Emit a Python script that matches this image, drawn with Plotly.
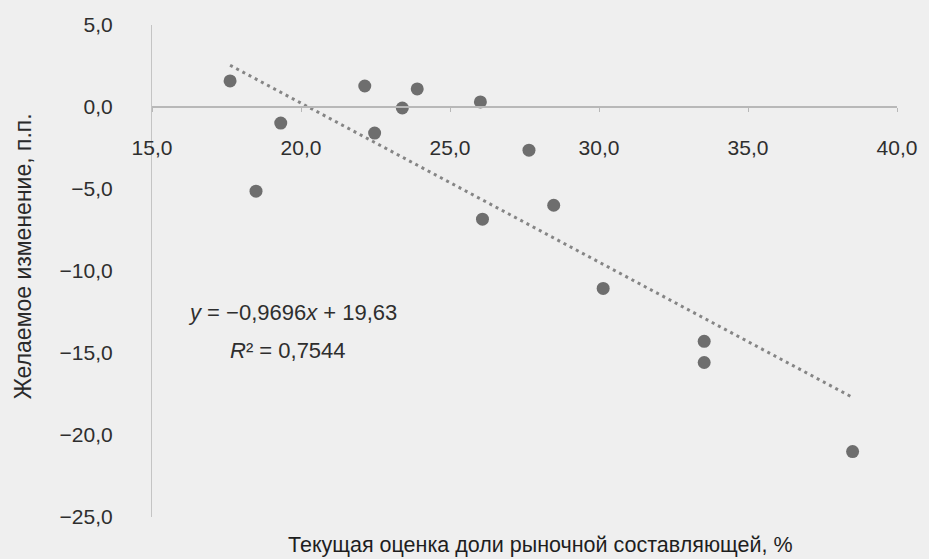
import plotly.graph_objects as go

# Data
share_x = [17.62, 18.49, 19.32, 22.14, 22.47, 23.40, 23.90, 26.02, 26.09,
           27.65, 28.48, 30.14, 33.53, 33.53, 38.51]
change_y = [1.59, -5.13, -0.98, 1.28, -1.59, -0.06, 1.10, 0.31, -6.84,
            -2.63, -5.99, -11.06, -14.29, -15.58, -21.01]

# Trend line coefficients as printed on the chart
slope = -0.9696
intercept = 19.63
r2_text = "0,7544"

x_ticks = [15, 20, 25, 30, 35, 40]
y_ticks = [5, 0, -5, -10, -15, -20, -25]
x_range = [15, 40]
y_range = [-25, 5]

x_title = "Текущая оценка доли рыночной составляющей, %"
y_title = "Желаемое изменение, п.п."

font_family = "Liberation Sans, Arial, sans-serif"
txt_color = "#2e2e2e"

trend_x = [min(share_x), max(share_x)]
trend_y = [slope * v + intercept for v in trend_x]

fig = go.Figure()
fig.add_trace(go.Scatter(
    x=trend_x, y=trend_y, mode="lines",
    line=dict(color="#858585", width=3, dash="3px,4px"),
    hoverinfo="skip", showlegend=False))
fig.add_trace(go.Scatter(
    x=share_x, y=change_y, mode="markers",
    marker=dict(color="#6e6e6e", size=13, line=dict(width=0)),
    showlegend=False))

fig.add_annotation(
    x=19.71, y=-12.56, xref="x", yref="y", showarrow=False,
    text="<i>y</i> = −0,9696<i>x</i> + 19,63",
    font=dict(family=font_family, size=22, color=txt_color))
fig.add_annotation(
    x=19.58, y=-14.82, xref="x", yref="y", showarrow=False,
    text="<i>R</i>² = " + r2_text,
    font=dict(family=font_family, size=22, color=txt_color))

fig.add_annotation(
    x=0.522, y=0, xref="paper", yref="paper", yshift=-28,
    yanchor="middle", showarrow=False, text=x_title,
    font=dict(family=font_family, size=21.5, color="#1e1e1e"))
fig.add_annotation(
    x=-0.173, y=0.53, xref="paper", yref="paper", textangle=-90,
    xanchor="center", yanchor="middle", showarrow=False, text=y_title,
    font=dict(family=font_family, size=23, color="#2a2a2a"))

fig.update_layout(
    width=929, height=559,
    margin=dict(l=152, r=24, t=25, b=42),
    paper_bgcolor="#efefef", plot_bgcolor="#efefef",
    separators=", ",
    font=dict(family=font_family, size=21, color=txt_color),
    xaxis=dict(
        range=x_range, tickvals=x_ticks, tickformat=".1f",
        anchor="free",
        position=(0 - y_range[0]) / (y_range[1] - y_range[0]),
        showline=True, linecolor="#b8b8b8", linewidth=1.5,
        ticks="outside", ticklen=4, tickcolor="#b8b8b8",
        ticklabelstandoff=18,
        showgrid=False, zeroline=False),
    yaxis=dict(
        range=y_range, tickvals=y_ticks, tickformat=".1f",
        showline=True, linecolor="#c4c4c4", linewidth=1.2,
        ticks="", ticklabelstandoff=34,
        showgrid=False, zeroline=False),
)

fig.write_html("out.html", config={"displayModeBar": False},
               post_script="document.body.style.margin='0px';")
